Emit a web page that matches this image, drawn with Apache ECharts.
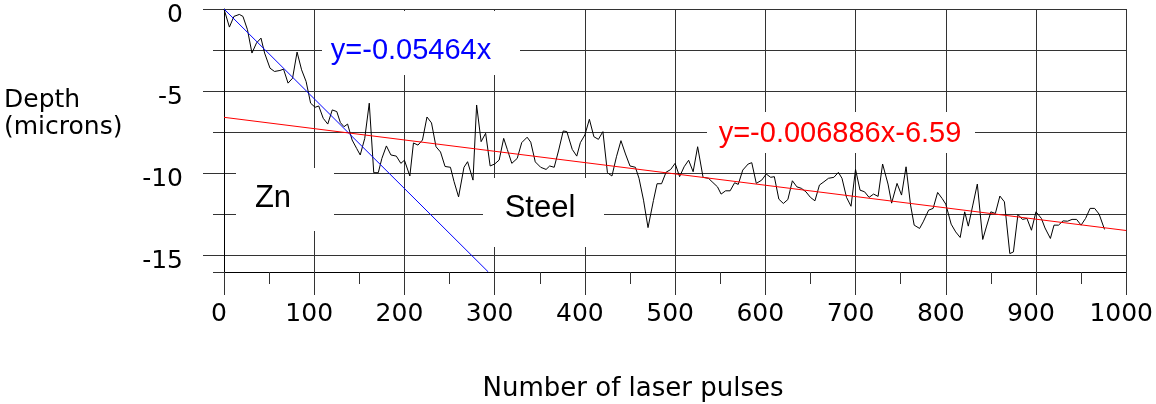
<!DOCTYPE html>
<html>
<head>
<meta charset="utf-8">
<script src="https://cdn.jsdelivr.net/npm/echarts@6/dist/echarts.min.js"></script>
<style>html,body{margin:0;padding:0;background:#fff}#c{width:1156px;height:404px}</style>
</head>
<body>
<div id="c"></div>
<script>
const pulses = [
  0,6,11,17,21,26,31,36,41,45,
  51,56,62,66,71,76,81,86,91,96,
  101,105,110,115,120,125,129,133,137,142,
  147,151,156,161,166,171,175,180,185,191,
  196,200,206,210,215,220,225,230,235,240,
  245,251,255,260,266,270,276,280,285,290,
  295,300,305,310,314,319,325,330,336,340,
  345,351,357,361,366,371,376,380,386,391,
  395,400,405,410,415,420,425,430,435,440,
  445,450,456,460,465,470,476,480,485,490,
  495,500,505,510,515,520,525,531,537,541,
  547,551,556,561,566,570,575,581,585,590,
  596,601,606,610,615,620,625,630,635,640,
  645,650,655,660,665,670,676,681,685,690,
  695,700,705,710,715,720,725,730,736,740,
  746,751,756,761,765,771,775,781,786,791,
  796,800,806,811,816,821,825,830,835,841,
  845,850,855,860,865,871,875,880,885,890,
  895,900,906,910,916,920,925,930,935,940,
  945,950,955,960,965,970,976
];
const depth = [
  0,-1.10,-0.45,-0.33,-0.45,-1.26,-2.68,-2.07,-1.77,-2.68,
  -3.60,-3.80,-3.74,-3.66,-4.51,-4.21,-2.62,-3.70,-4.41,-5.73,
  -5.98,-5.90,-6.65,-7.00,-6.14,-6.24,-6.91,-7.16,-7.00,-7.97,
  -8.48,-8.88,-7.87,-5.73,-9.96,-9.96,-9.09,-8.33,-8.88,-8.95,
  -9.39,-9.20,-10.16,-8.15,-8.28,-7.97,-6.57,-6.93,-8.38,-8.70,
  -9.58,-9.63,-10.50,-11.43,-9.63,-9.29,-10.41,-5.84,-8.07,-7.56,
  -9.55,-9.43,-9.19,-7.87,-8.54,-9.39,-9.09,-8.13,-7.80,-8.10,
  -9.30,-9.63,-9.76,-9.55,-9.63,-8.58,-7.42,-7.46,-8.54,-8.95,
  -8.13,-7.66,-6.71,-7.77,-7.93,-7.46,-9.96,-10.16,-8.99,-8.01,
  -8.82,-9.55,-9.63,-10.30,-11.63,-13.30,-11.65,-10.63,-10.63,-9.93,
  -9.77,-9.39,-10.20,-9.60,-9.20,-9.90,-8.38,-10.24,-10.30,-10.51,
  -10.82,-11.26,-11.06,-11.06,-10.57,-10.67,-9.80,-9.43,-9.35,-10.61,
  -10.41,-10.04,-10.24,-10.20,-11.57,-11.83,-11.59,-10.45,-10.82,-10.91,
  -11.12,-11.46,-11.67,-10.71,-10.51,-10.30,-10.24,-9.94,-10.30,-11.46,
  -12.00,-9.76,-11.02,-11.12,-11.46,-11.26,-11.40,-9.43,-10.65,-11.81,
  -10.61,-11.32,-9.60,-11.93,-13.15,-13.35,-12.95,-12.24,-12.13,-11.16,
  -11.53,-11.87,-13.09,-13.56,-13.90,-12.34,-13.21,-11.93,-10.65,-14.02,
  -13.26,-12.34,-12.44,-11.38,-11.73,-14.88,-14.78,-12.50,-12.80,-12.74,
  -13.46,-12.34,-12.74,-13.32,-13.96,-13.15,-13.15,-12.89,-12.91,-12.80,
  -12.80,-13.15,-12.74,-12.13,-12.13,-12.48,-13.41
];
// fitted lines (end points)
const zincFitX = [0, 293];
const zincFitY = [0, -16];
const steelFitX = [0, 1000];
const steelFitY = [-6.59, -13.476];
// axis ticks
const yMajorTicks = [0, -5, -10, -15];
const yMinorTicks = [-2.5, -7.5, -12.5, -16];

const zip = (xs, ys) => xs.map((x, i) => [x, ys[i]]);
const gridColor = '#333';
const tickFont = '"DejaVu Sans", sans-serif';
const annFont = '"Liberation Sans", Arial, sans-serif';

const chart = echarts.init(document.getElementById('c'), null, {renderer: 'canvas'});
chart.setOption({
  animation: false,
  backgroundColor: '#fff',
  grid: {left: 224, right: 28, top: 9, bottom: 132, containLabel: false},
  xAxis: {
    type: 'value', min: 0, max: 1000, interval: 100, position: 'bottom',
    axisLine: {show: true, onZero: false, lineStyle: {color: '#000', width: 1}},
    axisTick: {show: true, inside: false, length: 23, lineStyle: {color: gridColor}},
    minorTick: {show: true, splitNumber: 2, length: 12, lineStyle: {color: gridColor}},
    splitLine: {show: true, lineStyle: {color: gridColor, width: 1}},
    axisLabel: {color: '#000', fontFamily: tickFont, fontSize: 25, margin: 30, padding: [0, 10, 0, 0], formatter: v => String(v)}
  },
  yAxis: [{
    type: 'value', min: -16, max: 0, position: 'left',
    axisLine: {show: true, onZero: false, lineStyle: {color: '#000', width: 1}},
    axisTick: {show: true, length: 21, customValues: yMajorTicks, lineStyle: {color: gridColor}},
    splitLine: {show: true, lineStyle: {color: gridColor, width: 1}},
    axisLabel: {customValues: yMajorTicks, color: '#000', fontFamily: tickFont, fontSize: 25, margin: 41, verticalAlign: 'top', lineHeight: 12, formatter: v => String(v)}
  }, {
    type: 'value', min: -16, max: 0, position: 'left', offset: 0,
    axisLine: {show: false, onZero: false},
    axisTick: {show: true, length: 11, customValues: yMinorTicks, lineStyle: {color: gridColor}},
    splitLine: {show: true, lineStyle: {color: gridColor, width: 1}},
    axisLabel: {show: false, customValues: yMinorTicks}
  }],
  series: [{
    type: 'line', name: 'Depth', data: zip(pulses, depth), yAxisIndex: 0,
    symbol: 'none', showSymbol: false,
    lineStyle: {color: '#000', width: 1}, z: 3
  }, {
    type: 'line', name: 'Zn fit', data: zip(zincFitX, zincFitY), yAxisIndex: 0,
    symbol: 'none', showSymbol: false,
    lineStyle: {color: '#0000ff', width: 1}, z: 4
  }, {
    type: 'line', name: 'Steel fit', data: zip(steelFitX, steelFitY), yAxisIndex: 0,
    symbol: 'none', showSymbol: false,
    lineStyle: {color: '#ff0000', width: 1}, z: 4
  }],
  graphic: {
    elements: [
      {type: 'rect', z: 50, shape: {x: 322, y: 11, width: 198, height: 64}, style: {fill: '#fff'}},
      {type: 'rect', z: 50, shape: {x: 707, y: 112, width: 268, height: 41}, style: {fill: '#fff'}},
      {type: 'rect', z: 50, shape: {x: 236, y: 168, width: 98, height: 63}, style: {fill: '#fff'}},
      {type: 'rect', z: 50, shape: {x: 483, y: 178, width: 121, height: 69}, style: {fill: '#fff'}},
      {type: 'text', z: 60, x: 411, y: 51, style: {text: 'y=-0.05464x', fill: '#0000ff', font: '29px ' + annFont, align: 'center', verticalAlign: 'middle'}},
      {type: 'text', z: 60, x: 840, y: 134, style: {text: 'y=-0.006886x-6.59', fill: '#ff0000', font: '29px ' + annFont, align: 'center', verticalAlign: 'middle'}},
      {type: 'text', z: 60, x: 273, y: 198, style: {text: 'Zn', fill: '#000', font: '31px ' + annFont, align: 'center', verticalAlign: 'middle'}},
      {type: 'text', z: 60, x: 540, y: 208, style: {text: 'Steel', fill: '#000', font: '31px ' + annFont, align: 'center', verticalAlign: 'middle'}},
      {type: 'text', z: 60, x: 4, y: 100, style: {text: 'Depth', fill: '#000', font: '25px ' + tickFont, align: 'left', verticalAlign: 'middle'}},
      {type: 'text', z: 60, x: 4, y: 127.5, style: {text: '(microns)', fill: '#000', font: '25px ' + tickFont, align: 'left', verticalAlign: 'middle'}},
      {type: 'text', z: 60, x: 633, y: 389, style: {text: 'Number of laser pulses', fill: '#000', font: '26px ' + tickFont, align: 'center', verticalAlign: 'middle'}}
    ]
  }
});
</script>
</body>
</html>
